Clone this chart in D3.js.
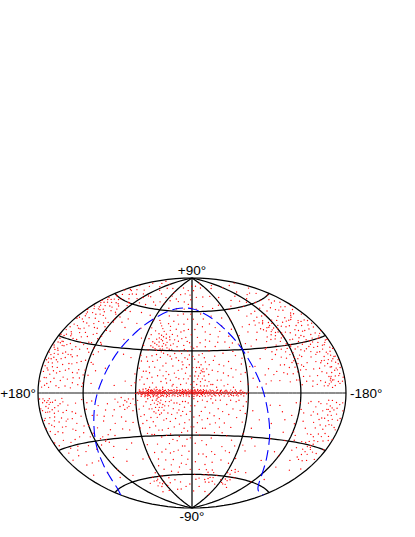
<!DOCTYPE html>
<html lang="en">
<head>
<meta charset="UTF-8">
<title>All-sky source map</title>
<script src="https://d3js.org/d3.v7.min.js"></script>
<style>
    body, html { margin: 0; padding: 0; background: #fff; }
    text { font-family: "Liberation Sans", sans-serif; font-size: 13.5px; fill: #000; }
</style>
</head>
<body>
<div id="chart"></div>
<script>
// Values as [longitude, latitude] in degrees
const planeBand = [[58,.4],[57,-.6],[56,.9],[55,-.2],[54,.5],[53,-1],[53,.2],[52,1.2],[51,-.4],[51,.6],[50,.1],[50,-1.3],[49,.8],[49,-.5],[48,1.5],[48,-.1],[47,.4],[47,-.9],[46,1],[46,-.2],[45,.3],[45,-1.6],[44,.7],[44,-.4],[43,1.3],[43,0],[42,-.8],[42,.5],[41,-.1],[41,1.1],[40,.3],[40,-1.2],[39,.8],[39,-.5],[38,2],[38,.1],[37,-.3],[37,1],[36,.4],[36,-1],[35,.7],[35,-.2],[34,1.4],[34,0],[33,-.7],[33,.5],[32,-1.8],[32,.2],[31,.9],[31,-.4],[30,1.2],[30,.1],[29,-.6],[29,.6],[28,-.1],[27,1],[27,-1.1],[26,.3],[25,-.4],[25,.8],[24,-.9],[23,.2],[23,1.5],[22,-.3],[21,.6],[20,-1.2],[20,.1],[19,.9],[18,-.5],[17,.4],[16,-.1],[16,1.2],[15,-.8],[14,.3],[13,-1.5],[13,.7],[12,0],[11,.5],[11,-.6],[10,1.1],[10,-.2],[9,.4],[9,-1],[8,.1],[8,.8],[7,-.4],[7,1.6],[6,.2],[6,-.7],[5,.6],[5,-.1],[4,1],[4,-1.3],[3,.3],[3,-.3],[2,.7],[2,-.6],[1,.1],[1,1.3],[0,-.2],[0,.5],[-1,-.9],[-1,.2],[-2,.8],[-2,-.3],[-3,.4],[-3,-1.1],[-4,0],[-4,1.2],[-5,-.5],[-5,.6],[-6,.1],[-6,-1.4],[-7,.9],[-7,-.2],[-8,.3],[-8,1.7],[-9,-.6],[-9,.5],[-10,0],[-10,-1],[-11,.7],[-11,-.3],[-12,1.1],[-12,.2],[-13,-.8],[-14,.4],[-14,-.1],[-15,.9],[-16,-.5],[-16,.2],[-17,1.3],[-18,-.2],[-18,.5],[-19,-1.2],[-20,.1],[-20,.8],[-21,-.4],[-22,.3],[-23,-.9],[-23,1],[-24,0],[-25,.6],[-26,-.3],[-26,1.5],[-27,.2],[-28,-.7],[-29,.4],[-30,-.1],[-30,1],[-31,-1.1],[-32,.5],[-33,-.2],[-34,.8],[-35,-.5],[-36,.1],[-37,1.2],[-38,-.8],[-38,.3],[-39,-.1],[-40,.6],[-41,-1],[-42,.2],[-43,1],[-44,-.4],[-45,.4],[-46,-.1],[-47,.9],[-48,-.7],[-49,.2],[-50,-.3],[-51,.6],[-52,-1],[-53,.1],[-54,.7],[-55,-.3],[-56,.3],[-58,-.5],
[56,2.1],[54,-2.2],[52,2.6],[50,-2.5],[49,2.9],[47,-2.1],[46,2.4],[44,-2.8],[43,2.2],[41,-2.4],[40,2.7],[38,-2],[37,2.5],[36,-2.7],[34,2.2],[33,-2.3],[31,2.6],[30,-2.1],[28,1.9],[27,-2.6],[25,2.3],[24,-2.2],[22,1.9],[21,-2],[19,2.4],[18,-1.9],[16,2.1],[15,-2.4],[13,2],[12,-1.9],[10,2.5],[9,-2.2],[7,2.2],[6,-2],[4,2.6],[3,-2.5],[1,2.1],[0,-2.2],[-1,1.8],[-2,-2.4],[-3,2.3],[-5,-2],[-6,2.5],[-8,-2.4],[-9,2.1],[-11,-1.9],[-12,2.4],[-14,-2.2],[-15,1.9],[-17,-2],[-19,2.2],[-21,-2.3],[-22,1.8],[-25,-2],[-27,2.1],[-29,-1.9],[-31,2],[-34,-2.1],[-36,1.9],[-39,-2.2],[-41,2],[-44,-1.9],[-46,2.1],[-49,-2],[-52,1.9],[-55,-2],[-60,.6],[60,-.3],[55,1.3],[54,-1.1],[52,-.3],[49,-1.8],[47,1.8],[46,-1.4],[44,1.7],[42,1.8],[41,-1.6],[39,1.5],[37,-1.6],[35,1.7],[33,1.6],[31,-1.5],[29,1.7],[26,-1.7],[24,1.7],[21,1.6],[18,1.5],[15,1.7],[12,1.7],[9,1.5],[6,1.4],[3,1.6],[0,1.5],[-3,1.6],[-6,1.7],[-10,1.5],[-13,1.7],[-20,1.6],[-24,-1.5],[-30,1.6],[-35,1.4],[-42,-1.6],[-47,-1.5],[-51,1.5]];

const northWest = [[37,37],[35,35],[39,38],[41,36],[33,39],[36,33],[43,34],[38,31],[31,36],[45,38],[40,41],[34,42],[42,30],[30,32],[47,32],[36,29],[28,38],[44,42],[38,44],[26,34],[33,28],[49,36],[52,30],[24,31],[30,45],[41,27],[22,38],[46,26],[18,33],[20,28],[15,30],[12,28],[25,26],[10,34],[5,30],[8,25],[3,27],[15,23],[19,41],[26,42],[15,44],[8,40],[3,36],[5,46],[12,50],[20,50],[28,52],[35,50],[44,48],[50,44],[7,54],[2,58],[15,58],[24,57],[38,56],[50,52],[57,46],[3,20],[7,14],[11,17],[17,11],[21,19],[25,13],[29,21],[33,8],[35,16],[39,23],[43,11],[47,18],[51,6],[53,15],[57,22],[12,6],[6,7],[21,5],[27,7],[38,4],[45,4],[56,9],[59,26],[62,13],[2,12],[15,16],[31,12],[41,18],[48,10],[23,24],[55,38],[59,33],[65,5],[72,8],[84,5],[97,16],[80,26],[70,24],[87,36],[72,45],[65,38],[82,48],[95,44],[70,55],[60,52],[88,56],[105,47],[105,28],[108,14],[111,6],
[170,54],[168,52],[172,56],[165,55],[174,53],[167,57],[160,53],[163,50],[170,49],[158,56],[155,51],[175,50],[152,54],[164,47],[150,57],[176,57],[148,50],[156,47],[171,45],[146,54],[178,47],[160,44],[143,48],[150,45],[168,42],[155,41],[175,42],[140,52],[165,38],[148,40],[160,37],[172,38],[140,44],[135,47],[133,40],[145,36],[153,35],[130,52],[125,45],[120,48],[128,37],[138,34],[118,40],[122,34],[176,34],[170,32],[162,32],[150,31],[142,30],[131,31],[170,21],[172,23],[168,19],[174,20],[167,23],[171,18],[175,24],[164,21],[177,17],[162,26],[170,27],[158,22],[155,28],[148,25],[143,21],[160,17],[152,16],[165,14],[172,13],[176,11],[157,11],[146,13],[138,26],[134,18],[128,27],[124,20],[120,28],[141,8],[150,7],[163,6],[170,8],[178,6],[155,4],[134,6],[126,9],[121,14],[117,24],[113,18],[115,32],[122,4],[130,12],[175,29],[168,5],[144,17],[136,12],
[110,62],[125,58],[140,62],[150,65],[165,62],[172,66],[160,68],[145,70],[130,68],[118,66],[105,68],[95,62],[85,65],[75,63],[68,70],[90,72],[110,74],[130,76],[150,78],[170,75],[60,75],[45,62],[30,62],[18,68],[8,66],[22,75],[6,74],[40,70],[52,68],[120,80],[80,78],[40,80],[176,70],[155,73],[100,77],[60,65],[35,74],[15,78],[162,80],[1,63],[2,82],[130,60],[152,60],[168,60],[178,64],
[42,39],[32,34],[46,35],[29,40],[37,40],[44,31],[35,31],[40,33],[27,31],[50,33],[23,35],[17,37],[13,39],[9,31],[6,37],[1,42],[11,45],[22,46],[31,48],[41,46],[47,50],[54,41],[28,27],[18,25],[11,22],[5,24],[1,33],[1,6],[4,10],[9,10],[14,10],[19,14],[23,9],[28,15],[32,19],[37,12],[42,7],[46,14],[50,22],[54,11],[58,17],[61,7],[36,25],[44,22],[52,25],[10,20],[20,6],[31,4],[16,4],[6,18],[50,15],[28,10],
[169,44],[162,41],[157,37],[166,34],[174,36],[152,38],[144,42],[138,40],[131,44],[126,51],[134,54],[144,57],[155,59],[163,58],[170,60],[178,54],[177,41],[150,48],[159,50],[166,51],[146,33],[136,29],[127,31],[119,36],[112,40],[112,26],[116,19],[122,11],[127,5],[129,19],[137,22],[142,14],[147,9],[153,12],[157,19],[162,12],[166,10],[173,16],[178,21],[174,27],[167,28],[159,27],[150,22],[145,27],[155,23],[163,18],[169,24],[176,14],[159,8],[151,3],[143,4],[136,3],[175,3],[165,3],[171,4],[178,31],[173,46],[156,31],[132,36],[124,42],[118,55],[108,55],[100,50],[115,50],[128,60],[138,56],
[170,12],[167,16],[173,8],[169,28],[163,33],[175,18],[177,25],[172,31],[165,26],[158,14],[152,20],[146,22],[140,17],[134,9],[129,14],[124,25],[121,6],[116,11],[113,31],[118,46],[154,64],[142,66],[126,64],[112,68],[166,66],[72,66],[56,72],[32,68],[15,62],[3,70]];

const northEast = [[-111,41],[-109,43],[-113,39],[-112,44],[-108,40],[-115,42],[-110,37],[-106,43],[-114,46],[-117,39],[-105,38],[-118,45],[-104,46],[-120,41],[-102,41],[-108,48],[-120,36],[-124,43],[-100,47],[-98,37],[-127,38],[-112,33],[-104,31],[-96,43],[-129,46],[-135,44],[-130,33],[-118,31],[-94,34],[-92,46],[-140,41],[-138,35],[-145,46],[-150,40],[-148,33],[-155,45],[-160,42],[-156,36],[-165,46],[-170,41],[-164,36],[-172,48],[-176,44],[-150,51],[-142,54],[-130,53],[-120,51],[-110,55],[-100,54],[-90,53],[-160,52],[-170,54],[-152,30],[-150,28],[-148,31],[-155,29],[-146,27],[-158,31],[-143,30],[-152,26],[-162,28],[-165,30],[-140,33],[-168,33],[-174,32],[-172,27],[-120,22],[-118,20],[-122,18],[-117,16],[-121,25],[-116,24],[-124,21],[-119,13],[-123,14],[-115,19],[-112,26],[-126,27],[-128,16],[-130,22],[-134,18],[-137,25],[-133,10],[-140,14],[-142,21],[-146,18],[-150,12],[-154,18],[-157,23],[-150,22],[-170,20],[-172,22],[-168,17],[-173,16],[-171,13],[-175,24],[-166,22],[-169,26],[-176,19],[-165,14],[-174,10],[-167,9],[-161,16],[-160,8],[-161,9],[-159,7],[-162,7],[-160,6],[-158,9],[-163,11],[-156,11],[-152,6],[-146,7],[-141,5],[-135,4],[-128,7],[-122,5],[-116,8],[-110,16],[-106,12],[-104,23],[-100,18],[-108,28],[-98,25],[-94,14],[-92,22],[-88,29],[-85,16],[-178,8],[-177,13],[-172,5],[-165,4],[-155,4],[-178,28],[-176,38],
[-58,14],[-55,20],[-52,8],[-50,26],[-48,16],[-45,32],[-44,11],[-41,22],[-38,6],[-36,28],[-34,14],[-32,36],[-30,20],[-27,9],[-26,26],[-24,42],[-22,16],[-20,30],[-18,8],[-17,38],[-15,22],[-13,12],[-12,28],[-11,15],[-10,16],[-9,14],[-12,17],[-8,18],[-7,12],[-13,15],[-6,10],[-9,8],[-14,9],[-5,6],[-4,15],[-3,24],[-2,8],[-16,5],[-20,6],[-26,4],[-34,5],[-44,4],[-2,32],[-7,40],[-1,18],[-4,46],[-15,48],[-26,50],[-38,44],[-48,40],[-57,34],[-66,28],[-62,40],[-70,18],[-73,8],[-78,23],[-66,10],[-82,36],[-72,46],[-60,52],[-48,54],[-32,56],[-15,58],[-8,62],[-22,64],[-40,62],[-55,64],[-70,60],[-85,58],[-100,60],[-115,62],[-130,60],[-145,60],[-160,58],[-172,60],[-150,66],[-130,70],[-110,68],[-90,66],[-70,70],[-50,72],[-30,72],[-12,72],[-6,78],[-40,80],[-80,78],[-120,76],[-150,75],[-170,68],[-175,74],[-100,80],[-60,84],[-20,82],
[-116,35],[-122,47],[-107,35],[-101,35],[-126,33],[-133,37],[-137,48],[-143,38],[-147,44],[-152,36],[-158,39],[-162,47],[-168,38],[-174,40],[-178,50],[-167,51],[-156,50],[-146,52],[-136,57],[-124,56],[-113,51],[-104,51],[-95,49],[-88,41],[-84,47],[-90,30],[-95,27],[-102,28],[-110,22],[-113,12],[-108,7],[-102,13],[-96,8],[-90,12],[-86,8],[-80,12],[-125,10],[-130,14],[-136,7],[-143,10],[-148,14],[-152,17],[-156,15],[-160,20],[-163,24],[-158,26],[-145,24],[-139,29],[-133,26],[-128,23],[-122,29],[-116,28],[-175,28],[-170,31],[-164,18],[-168,12],[-172,9],[-176,6],[-178,17],[-178,23],[-174,19],[-170,6],[-164,7],[-157,5],[-150,4],[-179,33],[-160,33],[-153,23],[-147,37],[-141,26],[-126,17],[-119,8],[-105,18],
[-169,30],[-166,26],[-171,18],[-172,12],[-167,21],[-176,15],[-163,14],[-158,18],[-161,3],[-142,44],[-134,41],[-128,42],[-121,38],[-123,30],[-114,30],[-106,47],[-99,42],[-151,44],[-157,41],[-163,41],[-136,31],[-131,28],[-145,34],[-158,46],[-173,36],[-165,56],[-155,56],[-125,64],[-140,66],[-105,64],[-78,62],[-160,64],
[-57,24],[-53,13],[-48,29],[-43,17],[-39,12],[-35,19],[-31,9],[-28,15],[-24,23],[-22,6],[-19,20],[-18,13],[-16,17],[-14,25],[-11,10],[-10,20],[-8,27],[-7,22],[-5,18],[-3,12],[-1,26],[-2,4],[-9,5],[-13,5],[-6,33],[-10,36],[-16,33],[-22,37],[-28,33],[-34,40],[-41,36],[-50,35],[-55,45],[-43,48],[-33,47],[-18,44],[-8,50],[-2,54],[-18,54],[-66,34],[-72,32],[-76,42],[-64,18],[-60,6],[-70,4],[-80,6]];

const southWest = [[36,-6],[38,-5],[34,-7],[37,-8],[40,-7],[33,-5],[35,-10],[39,-10],[42,-5],[31,-8],[44,-8],[36,-12],[41,-13],[30,-12],[46,-11],[33,-14],[28,-6],[25,-9],[49,-6],[52,-9],[22,-5],[26,-14],[20,-11],[16,-7],[14,-12],[10,-6],[8,-10],[4,-7],[2,-13],[6,-15],[12,-16],[18,-18],[24,-20],[31,-19],[38,-17],[45,-17],[52,-15],[57,-11],[58,-5],[55,-21],[48,-24],[41,-23],[34,-26],[27,-25],[20,-24],[14,-22],[8,-21],[3,-19],[5,-27],[12,-28],[52,-28],[44,-29],[36,-31],[25,-29],[18,-34],[28,-36],[43,-36],[12,-38],[6,-33],[4,-42],[14,-45],[24,-42],[34,-40],[38,-48],[27,-48],[9,-52],[20,-54],[3,-56],[32,-52],[46,-55],[50,-42],[60,-45],[70,-65],[68,-62],[72,-63],[66,-66],[75,-60],[62,-60],[80,-67],[55,-60],[58,-68],[45,-62],[35,-64],[25,-66],[15,-70],[5,-68],[40,-72],[65,-72],[90,-64],[85,-72],[70,-6],[68,-4],[72,-5],[66,-7],[74,-8],[70,-10],[76,-3],[63,-4],[80,-6],[85,-11],[92,-7],[78,-16],[66,-20],[72,-25],[87,-20],[95,-24],[105,-30],[103,-32],[107,-31],[108,-28],[100,-27],[110,-22],[98,-15],[103,-8],[110,-5],[112,-14],[118,-10],[115,-33],[120,-20],[75,-34],[85,-38],[70,-46],[95,-46],[110,-42],[125,-35],[135,-42],[120,-50],[105,-56],[130,-55],
[165,-6],[167,-8],[163,-5],[168,-5],[166,-10],[162,-9],[170,-7],[160,-5],[164,-3],[172,-10],[158,-8],[168,-13],[174,-5],[156,-4],[161,-13],[176,-9],[154,-10],[150,-6],[152,-14],[146,-5],[148,-11],[144,-15],[140,-7],[136,-11],[130,-6],[126,-14],[134,-18],[142,-21],[150,-19],[158,-22],[166,-18],[172,-16],[178,-3],[177,-14],[170,-22],[163,-26],[154,-28],[146,-27],[138,-26],[130,-24],[124,-27],[133,-32],[142,-35],[152,-33],[160,-31],[174,-28],[168,-33],[147,-42],[158,-42],[166,-48],[140,-50],[175,-20],[178,-26],
[37,-4],[35,-3],[32,-10],[29,-9],[43,-11],[47,-4],[39,-14],[35,-15],[24,-6],[19,-7],[13,-8],[7,-6],[1,-9],[10,-13],[16,-14],[22,-15],[28,-18],[43,-20],[50,-19],[56,-16],[59,-24],[47,-29],[38,-26],[30,-30],[23,-33],[15,-31],[9,-25],[1,-24],[2,-32],[9,-38],[18,-41],[29,-43],[40,-42],[48,-47],[56,-36],[16,-51],[6,-48],[24,-58],[35,-57],[52,-52],[60,-65],[73,-68],[64,-57],[78,-63],[48,-66],[30,-72],
[68,-9],[73,-11],[64,-12],[61,-8],[78,-9],[83,-4],[88,-15],[95,-11],[100,-18],[106,-14],[116,-6],[122,-4],[74,-19],[80,-24],[92,-28],[100,-35],[112,-29],[118,-25],[126,-20],[132,-12],[138,-15],[143,-10],[147,-3],[153,-7],[157,-16],[163,-15],[169,-10],[173,-3],[175,-13],[179,-18],[164,-21],[155,-19],[147,-16],[169,-17],[160,-11],[166,-4],[171,-4],[178,-8],[139,-22],[148,-31],[157,-36],[171,-37]];

const southEast = [[-160,-10],[-158,-12],[-162,-8],[-159,-7],[-163,-12],[-157,-9],[-165,-9],[-155,-14],[-161,-15],[-166,-14],[-154,-6],[-167,-5],[-168,-17],[-152,-18],[-170,-11],[-150,-10],[-158,-20],[-172,-6],[-164,-22],[-148,-15],[-146,-6],[-144,-12],[-174,-14],[-176,-5],[-171,-23],[-178,-9],[-176,-19],[-155,-31],[-153,-30],[-157,-32],[-152,-34],[-156,-29],[-150,-31],[-158,-35],[-154,-27],[-148,-28],[-150,-36],[-160,-27],[-146,-33],[-145,-24],[-142,-17],[-140,-8],[-136,-13],[-134,-21],[-130,-6],[-128,-17],[-125,-26],[-122,-10],[-118,-19],[-115,-6],[-112,-14],[-108,-25],[-138,-29],[-132,-35],[-141,-41],[-130,-47],[-120,-40],[-110,-38],[-100,-45],[-95,-30],[-90,-20],[-100,-12],[-165,-38],[-176,-30],[-170,-43],[-155,-46],[-135,-56],[-118,-60],
[-70,-60],[-72,-63],[-68,-58],[-74,-56],[-66,-62],[-75,-66],[-69,-66],[-62,-57],[-80,-60],[-58,-63],[-30,-60],[-32,-63],[-28,-58],[-35,-62],[-26,-64],[-38,-58],[-24,-56],[-43,-65],[-46,-60],[-52,-67],[-85,-68],[-55,-50],[-62,-46],[-70,-40],[-50,-42],[-42,-48],[-30,-50],[-20,-52],[-12,-56],[-5,-50],[-15,-44],[-26,-42],[-38,-38],[-48,-33],[-60,-28],[-72,-31],[-56,-20],[-44,-24],[-35,-28],[-23,-32],[-12,-34],[-5,-28],[-15,-25],[-4,-36],[-20,-22],[-30,-18],[-40,-15],[-52,-12],[-58,-6],[-47,-6],[-37,-8],[-30,-5],[-28,-11],[-22,-7],[-19,-14],[-14,-10],[-11,-5],[-8,-16],[-3,-9],[-6,-21],[-2,-17],[-16,-6],[-10,-13],[-36,-21],[-24,-16],[-44,-11],[-66,-12],[-75,-18],[-85,-8],[-80,-36],[-92,-55],[-8,-64],[-18,-70],[-40,-74],[-60,-76],[-5,-74],
[-161,-4],[-156,-4],[-169,-8],[-164,-17],[-160,-18],[-155,-9],[-151,-14],[-147,-20],[-143,-5],[-138,-11],[-133,-5],[-173,-18],[-177,-13],[-179,-24],[-174,-25],[-167,-26],[-161,-24],[-155,-23],[-150,-25],[-152,-39],[-147,-38],[-144,-29],[-159,-39],[-163,-33],[-170,-33],[-140,-24],[-136,-33],[-127,-29],[-121,-24],[-115,-30],[-105,-17],[-96,-8],[-120,-6],[-126,-12],[-175,-36],
[-66,-55],[-78,-55],[-64,-65],[-71,-54],[-76,-62],[-34,-56],[-41,-62],[-29,-66],[-37,-66],[-22,-60],[-14,-63],[-5,-60],[-9,-44],[-20,-46],[-31,-44],[-44,-41],[-54,-37],[-64,-36],[-68,-24],[-58,-14],[-49,-17],[-41,-30],[-31,-24],[-26,-28],[-18,-37],[-9,-30],[-2,-24],[-11,-19],[-17,-18],[-26,-21],[-33,-13],[-41,-5],[-50,-5],[-55,-9],[-25,-5],[-6,-6],[-2,-4],[-20,-4],[-12,-25]];

// Dashed great circle, sampled every 15 degrees of longitude
const circleLon = [180,165,150,135,120,105,90,75,60,45,30,15,0,-15,-30,-45,-60,-75,-90,-105,-120,-135,-150,-165,-180];
const circleLat = [-62.4,-60,-55.1,-46.1,-29.9,-3.9,23.8,42.7,53.2,59,62,63,62.4,60,55.1,46.1,29.9,3.9,-23.8,-42.7,-53.2,-59,-62,-63,-62.4];

const gridLons = [0,60,-60,120,-120,180,-180];
const gridLats = [0,30,-30,60,-60];

const width = 415, height = 537;
const svg = d3.select("#chart").append("svg").attr("width", width).attr("height", height).style("display", "block");

// Hammer projection, x and y both in -1..1, squeezed by the scales below
const rad = Math.PI / 180;
function hammer(lon, lat) {
    const z = Math.sqrt(1 + Math.cos(lat * rad) * Math.cos(lon * rad / 2));
    return [Math.cos(lat * rad) * Math.sin(lon * rad / 2) / z, Math.sin(lat * rad) / z];
}
const x = d3.scaleLinear().domain([1, -1]).range([38, 346]);
const y = d3.scaleLinear().domain([-1, 1]).range([508, 278]);

const line = d3.line()
    .x(d => x(hammer(d[0], d[1])[0]))
    .y(d => y(hammer(d[0], d[1])[1]));

// Graticule
gridLons.forEach(lon => {
    svg.append("path")
        .attr("d", line(d3.range(-90, 91, 3).map(lat => [lon, lat])))
        .attr("fill", "none").attr("stroke", "#000").attr("stroke-width", 1.25);
});
gridLats.forEach(lat => {
    svg.append("path")
        .attr("d", line(d3.range(-180, 181, 5).map(lon => [lon, lat])))
        .attr("fill", "none").attr("stroke", "#000").attr("stroke-width", lat === 0 ? 0.9 : 1.25);
});

// Sources
const points = planeBand.concat(northWest, northEast, southWest, southEast);
svg.append("g").selectAll("circle")
    .data(points)
    .join("circle")
    .attr("cx", d => x(hammer(d[0], d[1])[0]))
    .attr("cy", d => y(hammer(d[0], d[1])[1]))
    .attr("r", 0.68)
    .attr("fill", "#f00");

// Dashed circle
svg.append("path")
    .attr("d", line.curve(d3.curveCatmullRom)(circleLon.map((lon, i) => [lon, circleLat[i]])))
    .attr("fill", "none")
    .attr("stroke", "#00f")
    .attr("stroke-width", 1.1)
    .attr("stroke-dasharray", "11,5");

// Labels
const labels = [["+90°", 0, 90, "middle", 0, -3], ["-90°", 0, -90, "middle", 0, 13], ["+180°", 180, 0, "end", -2, 5], ["-180°", -180, 0, "start", 4, 5]];
svg.selectAll("text")
    .data(labels)
    .join("text")
    .attr("x", d => x(hammer(d[1], d[2])[0]) + d[4])
    .attr("y", d => y(hammer(d[1], d[2])[1]) + d[5])
    .attr("text-anchor", d => d[3])
    .text(d => d[0]);
</script>
</body>
</html>
